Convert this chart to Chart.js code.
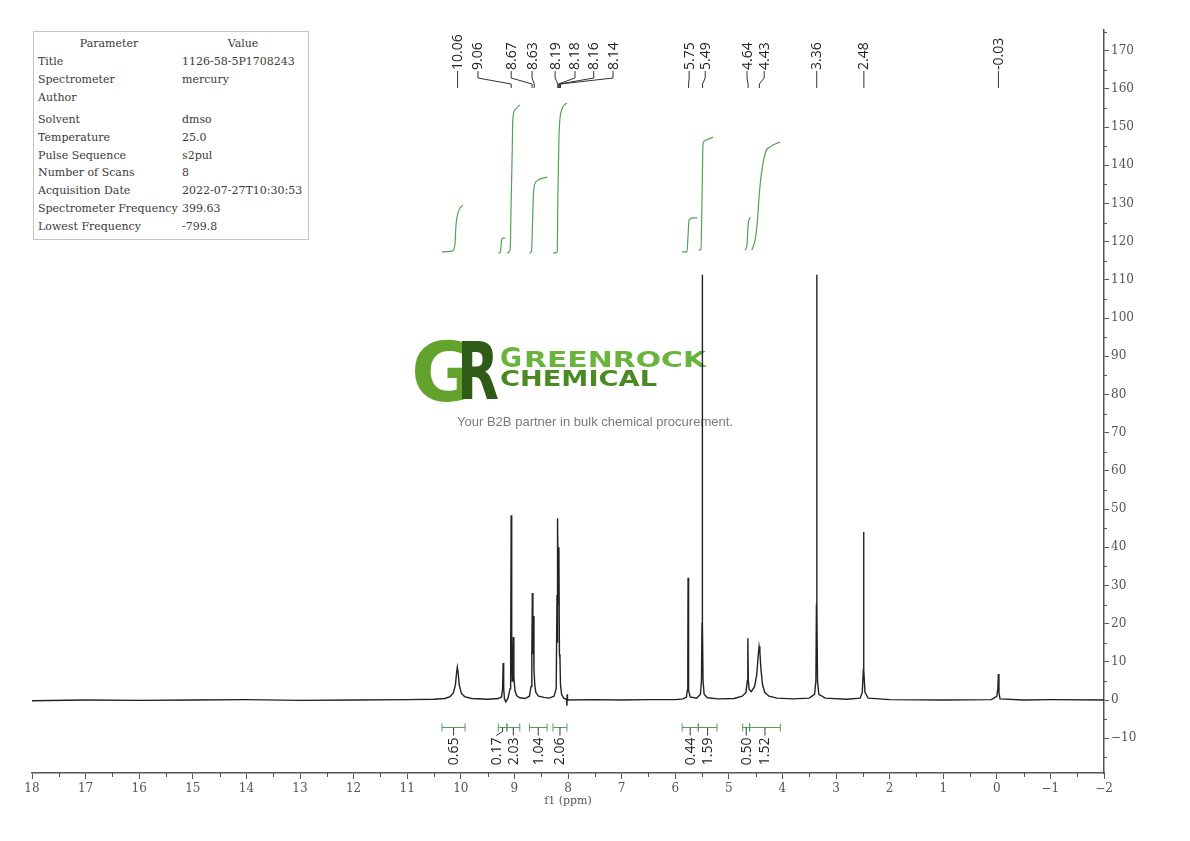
<!DOCTYPE html>
<html><head><meta charset="utf-8">
<script src="https://cdn.jsdelivr.net/npm/chart.js@4.4.1/dist/chart.umd.min.js"></script>
<style>
html,body{margin:0;padding:0;background:#fff;}
#wrap{position:relative;width:1190px;height:841px;overflow:hidden;}
#c{position:absolute;left:0;top:0;}
#params{position:absolute;left:33px;top:31px;width:274px;height:207px;border:1px solid #c4c4c4;font-family:'DejaVu Serif',serif;font-size:11px;color:#3a3a3a;background:#fff;z-index:2;}
.row{position:absolute;left:0;width:100%;height:16px;line-height:16px;white-space:nowrap;}
.k{position:absolute;left:4px;}
.v{position:absolute;left:148px;}
.hk{position:absolute;left:75px;transform:translateX(-50%);}
.hv{position:absolute;left:209px;transform:translateX(-50%);}
</style></head>
<body>
<div id="wrap">
<canvas id="c" width="1190" height="841"></canvas>
<div id="params"></div>
</div>
<script>
// ---------------- DATA ----------------
const paramNames  = ['Title','Spectrometer','Author','Solvent','Temperature','Pulse Sequence','Number of Scans','Acquisition Date','Spectrometer Frequency','Lowest Frequency'];
const paramValues = ['1126-58-5P1708243','mercury','','dmso','25.0','s2pul','8','2022-07-27T10:30:53','399.63','-799.8'];

// spectrum (ppm, intensity)
const specPpm = [18.0,17.0,16.0,15.0,14.0,13.0,12.0,11.0,10.50,10.30,10.20,10.14,10.10,10.08,10.065,10.05,10.03,9.99,9.93,9.80,9.50,9.30,9.24,9.22,9.21,9.20,9.185,9.16,9.12,9.08,9.07,9.06,9.05,9.04,9.03,9.02,9.01,8.99,8.96,8.90,8.80,8.72,8.69,8.675,8.665,8.655,8.645,8.635,8.62,8.60,8.55,8.45,8.35,8.26,8.22,8.205,8.20,8.19,8.18,8.17,8.16,8.15,8.14,8.12,8.08,8.03,8.02,8.015,8.01,7.50,7.00,6.50,6.00,5.85,5.79,5.775,5.765,5.76,5.755,5.745,5.72,5.60,5.53,5.51,5.50,5.495,5.49,5.48,5.46,5.40,5.20,4.90,4.75,4.68,4.655,4.645,4.635,4.62,4.58,4.52,4.48,4.455,4.435,4.42,4.40,4.37,4.33,4.25,4.10,3.80,3.50,3.40,3.375,3.365,3.36,3.355,3.345,3.32,3.20,2.80,2.55,2.51,2.49,2.485,2.48,2.46,2.40,2.00,1.00,0.10,0.00,-0.02,-0.03,-0.04,-0.06,-0.50,-1.00,-2.00];
const specInt = [-0.2,0.0,-0.1,0.0,0.1,-0.1,0.0,0.1,0.2,0.4,0.9,1.8,4.0,7.0,8.6,7.2,4.0,1.8,0.9,0.4,0.2,0.4,0.8,3.0,9.7,3.0,0.3,-0.5,0.5,3.0,10.0,48.4,12.0,5.0,8.0,16.5,6.0,2.5,1.2,0.6,0.4,1.0,3.5,11.0,28.0,12.0,22.0,8.0,4.0,2.0,1.0,0.7,0.5,1.0,3.0,27.5,15.0,47.6,25.0,40.0,12.0,11.0,4.0,1.5,0.5,0.2,-1.5,1.5,0.0,0.1,0.0,0.1,0.1,0.3,0.8,2.5,8.0,32.0,8.0,2.5,0.8,0.5,1.5,5.0,20.0,111.3,20.0,5.0,1.5,0.6,0.3,0.4,1.0,2.0,5.0,16.2,5.0,2.8,2.2,3.5,6.5,11.0,14.0,12.5,8.0,4.0,2.0,1.0,0.5,0.3,0.5,1.5,5.0,25.0,111.3,25.0,5.0,1.5,0.5,0.2,0.5,2.0,8.0,44.0,8.0,2.0,0.5,0.1,0.0,0.1,1.0,3.0,6.8,2.0,0.3,0.0,0.1,0.0];

// integral curves (ppm, curve height on the intensity axis)
const intCurvePpm = [
  [10.35,10.16,10.11,10.09,10.05,9.96],
  [9.30,9.26,9.24,9.21,9.17],
  [9.14,9.08,9.06,9.04,9.03,8.99,8.90],
  [8.72,8.68,8.66,8.64,8.58,8.39],
  [8.28,8.20,8.19,8.17,8.13,8.02],
  [5.87,5.78,5.76,5.74,5.67,5.59],
  [5.56,5.52,5.50,5.48,5.43,5.29],
  [4.70,4.66,4.64,4.60],
  [4.57,4.51,4.47,4.42,4.32,4.23,4.04]
];
const intCurveVal = [
  [117.3,117.5,119.1,124.3,127.7,129.6],
  [117.0,117.3,120.4,120.9,120.9],
  [117.0,117.8,130.9,144.0,151.8,154.5,155.8],
  [117.0,117.5,125.7,133.5,135.9,136.9],
  [117.0,117.3,130.9,146.6,153.9,156.3],
  [117.3,117.3,121.7,125.7,126.2,126.2],
  [117.8,118.0,130.9,145.8,146.6,147.4],
  [117.8,119.1,124.3,126.4],
  [117.8,120.4,124.9,134.3,143.2,144.8,146.1]
];

// integration ranges and values
const intFrom   = [10.35,9.30,9.14,8.72,8.28,5.87,5.57,4.74,4.61];
const intTo     = [9.92,9.14,8.90,8.39,8.02,5.57,5.22,4.61,4.04];
const intValues = ['0.65','0.17','2.03','1.04','2.06','0.44','1.59','0.50','1.52'];

// peak picking labels
const peakLabels = ['10.06','9.06','8.67','8.63','8.19','8.18','8.16','8.14','5.75','5.49','4.64','4.43','3.36','2.48','-0.03'];
const peakPpm    = [10.06,9.06,8.67,8.63,8.19,8.18,8.16,8.14,5.75,5.49,4.64,4.43,3.36,2.48,-0.03];
// where each label sits along the ppm axis (spread to avoid overlap)
const peakLabelAt = [10.06,9.68,9.06,8.67,8.24,7.87,7.52,7.16,5.74,5.44,4.66,4.34,3.36,2.48,-0.03];

// axes
const xMin = -2, xMax = 18, xStep = 1;
const yMin = -19.1, yMax = 175.4, yStep = 10;
const xTitle = 'f1 (ppm)';
const tagline = 'Your B2B partner in bulk chemical procurement.';

// ---------------- PARAMETER TABLE ----------------
(function(){
  const box = document.getElementById('params');
  const rowTops = [4,22,40,58,80,98,116,133,151,169,187];
  const h = document.createElement('div'); h.className='row'; h.style.top=rowTops[0]+'px';
  h.innerHTML = '<span class="hk">Parameter</span><span class="hv">Value</span>';
  box.appendChild(h);
  paramNames.forEach((n,i)=>{
    const r = document.createElement('div'); r.className='row'; r.style.top=rowTops[i+1]+'px';
    const k = document.createElement('span'); k.className='k'; k.textContent=n;
    const v = document.createElement('span'); v.className='v'; v.textContent=paramValues[i];
    r.appendChild(k); r.appendChild(v); box.appendChild(r);
  });
})();

// ---------------- CHART ----------------
const GREEN = '#55a055';
const INK = '#222';
const AX = '#555';
const serif = "'DejaVu Serif', serif";
const sans = "'Open Sans', sans-serif";

function fitText(ctx, txt, font, color, x, baseline, w){
  ctx.save(); ctx.font = font; ctx.fillStyle = color; ctx.textBaseline='alphabetic'; ctx.textAlign='left';
  const m = ctx.measureText(txt).width;
  ctx.translate(x, baseline); ctx.scale(w/m, 1); ctx.fillText(txt, 0, 0); ctx.restore();
}

const overlay = {
  id: 'overlay',
  beforeDatasetsDraw(chart){
    const ctx = chart.ctx;
    // watermark logo
    fitText(ctx, 'G', "bold 82px 'DejaVu Sans'", '#62a32e', 411, 401, 66);
    fitText(ctx, 'R', "bold 80px 'DejaVu Sans'", '#2e5c16', 457, 399, 42);
    fitText(ctx, 'G', "bold 26px 'DejaVu Sans'", '#6ab33c', 500, 367, 22);
    fitText(ctx, 'REENROCK', "bold 22px 'DejaVu Sans'", '#6ab33c', 524, 367, 182);
    fitText(ctx, 'CHEMICAL', "bold 22px 'DejaVu Sans'", '#4a8a22', 500, 386, 157);
    fitText(ctx, tagline, "13px 'Liberation Sans'", '#7a7a7a', 457, 426, 276);
  },
  afterDraw(chart){
    const ctx = chart.ctx;
    const xs = chart.scales.x, ys = chart.scales.y;
    const ca = chart.chartArea;
    ctx.save();
    // minor ticks
    ctx.strokeStyle = AX; ctx.lineWidth = 1;
    ctx.beginPath();
    for (let v = xMin + xStep/2; v < xMax; v += xStep){
      const px = Math.round(xs.getPixelForValue(v)) + 0.5;
      ctx.moveTo(px, ca.bottom); ctx.lineTo(px, ca.bottom + 4);
    }
    for (let v = -15; v <= 175; v += yStep){
      const py = Math.round(ys.getPixelForValue(v)) + 0.5;
      ctx.moveTo(ca.right, py); ctx.lineTo(ca.right + 3, py);
    }
    ctx.stroke();

    // peak labels (top)
    ctx.font = '14px ' + sans; ctx.fillStyle = '#222'; ctx.strokeStyle = '#333'; ctx.lineWidth = 1;
    peakLabels.forEach((t,i)=>{
      const xl = xs.getPixelForValue(peakLabelAt[i]);
      const xp = xs.getPixelForValue(peakPpm[i]);
      ctx.save(); ctx.translate(xl, 70); ctx.rotate(-Math.PI/2);
      ctx.textAlign='left'; ctx.textBaseline='middle'; ctx.fillText(t, 0, 0.5); ctx.restore();
      ctx.beginPath();
      ctx.moveTo(xl, 71); ctx.lineTo(xl, 78); ctx.lineTo(xp, 84); ctx.lineTo(xp, 88);
      ctx.stroke();
    });

    // integration brackets (bottom)
    const yb = Math.round(ys.getPixelForValue(-7.1)) + 0.5;
    const centers = intFrom.map((a,i)=> (xs.getPixelForValue(a) + xs.getPixelForValue(intTo[i]))/2);
    const lx = centers.slice();
    for (let i = lx.length - 2; i >= 0; i--) if (lx[i] > lx[i+1] - 17) lx[i] = lx[i+1] - 17;
    ctx.strokeStyle = GREEN; ctx.lineWidth = 1;
    intFrom.forEach((a,i)=>{
      const x1 = xs.getPixelForValue(a), x2 = xs.getPixelForValue(intTo[i]);
      ctx.beginPath();
      ctx.moveTo(x1, yb); ctx.lineTo(x2, yb);
      ctx.moveTo(x1, yb-4); ctx.lineTo(x1, yb+4);
      ctx.moveTo(x2, yb-4); ctx.lineTo(x2, yb+4);
      ctx.stroke();
    });
    ctx.strokeStyle = '#333';
    ctx.font = '14px ' + sans; ctx.fillStyle = '#222';
    intValues.forEach((t,i)=>{
      ctx.beginPath();
      ctx.moveTo(centers[i], yb); ctx.lineTo(centers[i], yb+4); ctx.lineTo(lx[i], yb+8);
      ctx.stroke();
      ctx.save(); ctx.translate(lx[i], yb+10); ctx.rotate(-Math.PI/2);
      ctx.textAlign='right'; ctx.textBaseline='middle'; ctx.fillText(t, 0, 0.5); ctx.restore();
    });
    ctx.restore();
  }
};

const datasets = [];
intCurvePpm.forEach((arr,k)=>{
  datasets.push({
    data: arr.map((p,i)=>({x:p, y:intCurveVal[k][i]})),
    showLine:true, borderColor:GREEN, borderWidth:1.2, pointRadius:0,
    cubicInterpolationMode:'monotone', fill:false
  });
});
datasets.push({
  data: specPpm.map((p,i)=>({x:p, y:specInt[i]})),
  showLine:true, borderColor:INK, borderWidth:1.4, pointRadius:0, tension:0, fill:false
});

const fmt = v => (v < 0 ? '\u2212' + Math.abs(v) : String(v));

new Chart(document.getElementById('c').getContext('2d'), {
  type: 'scatter',
  data: { datasets },
  options: {
    responsive: false, animation: false, devicePixelRatio: 1,
    layout: { padding: { left: 32, right: 46, top: 30, bottom: 28 } },
    plugins: { legend: { display: false }, tooltip: { enabled: false } },
    scales: {
      x: {
        type: 'linear', reverse: true, min: xMin, max: xMax, position: 'bottom',
        ticks: { stepSize: xStep, includeBounds: false, autoSkip: false, maxRotation: 0,
                 font: { family: serif, size: 12 }, color: '#555', padding: 3, callback: v => fmt(v) },
        grid: { drawOnChartArea: false, tickLength: 6, tickColor: AX, tickWidth: 1 },
        border: { display: true, color: AX, width: 1.5 },
        title: { display: true, text: xTitle, font: { family: serif, size: 11 }, color: '#555', padding: { top: 0, bottom: 5 } },
        afterFit: s => { s.height = 40; }
      },
      y: {
        type: 'linear', position: 'right', min: yMin, max: yMax,
        ticks: { stepSize: yStep, includeBounds: false, autoSkip: false,
                 font: { family: serif, size: 12 }, color: '#555', padding: 2, callback: v => fmt(v) },
        grid: { drawOnChartArea: false, tickLength: 5, tickColor: AX, tickWidth: 1 },
        border: { display: true, color: AX, width: 1.5 },
        afterFit: s => { s.width = 40; }
      }
    }
  },
  plugins: [overlay]
});
</script>
</body></html>
